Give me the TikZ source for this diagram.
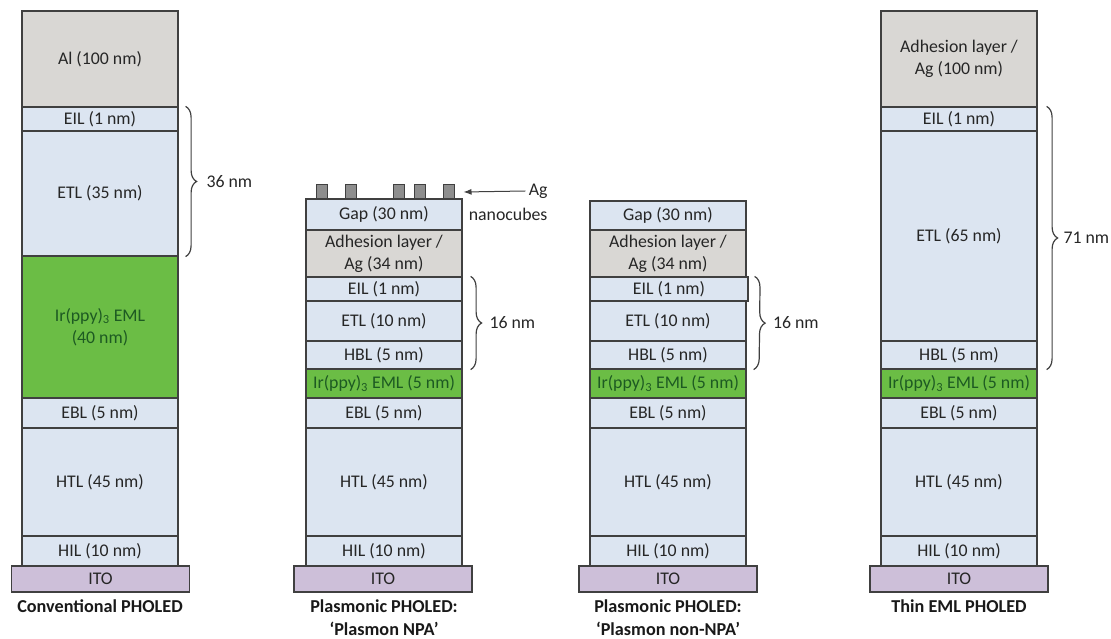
\documentclass[tikz,border=0pt]{standalone}
\usepackage{fontspec}
\setmainfont{Carlito}
\usepackage{xcolor}
\usepackage{tikz}
\usetikzlibrary{decorations.pathreplacing,arrows.meta}

\definecolor{layerblue}{HTML}{DCE5F1}
\definecolor{metalgray}{HTML}{D9D7D4}
\definecolor{emlgreen}{HTML}{6BBD45}
\definecolor{emltext}{HTML}{1D5A22}
\definecolor{itopurple}{HTML}{CDBFD9}
\definecolor{edgegray}{HTML}{404040}
\definecolor{cubegray}{HTML}{8E8E8E}

\begin{document}
\begin{tikzpicture}[
    x=1pt, y=-1pt,
    layer/.style={draw=edgegray, line width=1.2pt, minimum width=156pt, inner sep=0pt, align=center,
                  font=\fontsize{17.8}{22}\selectfont, text=black!85},
    organic/.style={layer, fill=layerblue},
    metal/.style={layer, fill=metalgray},
    eml/.style={layer, fill=emlgreen, text=emltext},
    ito/.style={layer, fill=itopurple, minimum width=178pt, minimum height=26pt},
    cube/.style={draw=edgegray, line width=1pt, fill=cubegray, minimum width=11pt, minimum height=14pt, inner sep=0pt},
    nmbrace/.style={draw=edgegray, line width=1.2pt, decorate, decoration={brace, amplitude=11pt}},
    note/.style={font=\fontsize{17.8}{22}\selectfont, text=black!85},
    title/.style={font=\bfseries\fontsize{18.2}{23}\selectfont, align=center, anchor=north, text=black!90}
]
    \useasboundingbox (0,0) rectangle (1111,639);

    % Conventional PHOLED
    \node[metal, minimum height=96pt] (c1al) at (100,59) {Al (100 nm)};
    \node[organic, minimum height=24pt] (c1eil) at (100,119) {EIL (1 nm)};
    \node[organic, minimum height=125pt] (c1etl) at (100,193.5) {ETL (35 nm)};
    \node[eml, minimum height=142pt] (c1eml) at (100,327) {Ir(ppy)\textsubscript{3} EML\\(40 nm)};
    \node[organic, minimum height=30pt] (c1ebl) at (100,413) {EBL (5 nm)};
    \node[organic, minimum height=108pt] (c1htl) at (100,482) {HTL (45 nm)};
    \node[organic, minimum height=30pt] (c1hil) at (100,551) {HIL (10 nm)};
    \node[ito] (c1ito) at (100.5,579) {ITO};
    \node[title] (c1name) at (100,596) {Conventional PHOLED};

    % Plasmonic PHOLED: Plasmon NPA
    \node[organic, minimum height=31pt] (c2gap) at (384,214.5) {Gap (30 nm)};
    \node[metal, minimum height=47pt] (c2adh) at (384,253.5) {Adhesion layer /\\Ag (34 nm)};
    \node[organic, minimum height=24pt] (c2eil) at (384,289) {EIL (1 nm)};
    \node[organic, minimum height=40pt] (c2etl) at (384,321) {ETL (10 nm)};
    \node[organic, minimum height=28pt] (c2hbl) at (384,355) {HBL (5 nm)};
    \node[eml, minimum height=29pt] (c2eml) at (384,383.5) {Ir(ppy)\textsubscript{3} EML (5 nm)};
    \node[organic, minimum height=30pt] (c2ebl) at (384,413) {EBL (5 nm)};
    \node[organic, minimum height=108pt] (c2htl) at (384,482) {HTL (45 nm)};
    \node[organic, minimum height=30pt] (c2hil) at (384,551) {HIL (10 nm)};
    \node[ito] (c2ito) at (383,579) {ITO};
    \node[title] (c2name) at (384,596) {Plasmonic PHOLED:\\‘Plasmon NPA’};

    % Ag nanocubes on the gap layer
    \node[cube] (cube1) at (321.5,192) {};
    \node[cube] (cube2) at (350.5,192) {};
    \node[cube] (cube3) at (399,192) {};
    \node[cube] (cube4) at (419.5,192) {};
    \node[cube] (cube5) at (448.5,192) {};
    \node[note, anchor=east] (aglbl) at (551,191) {Ag};
    \node[note, anchor=east] (nclbl) at (551,214) {nanocubes};
    \draw[-{Latex[length=8pt,width=6pt]}, line width=1pt, edgegray] (aglbl.west) -- ([xshift=9pt]cube5.east);

    % Plasmonic PHOLED: Plasmon non-NPA
    \node[organic, minimum height=29pt] (c3gap) at (668,215.5) {Gap (30 nm)};
    \node[metal, minimum height=47pt] (c3adh) at (668,253.5) {Adhesion layer /\\Ag (34 nm)};
    \node[organic, minimum height=24pt, minimum width=158pt] (c3eil) at (669,289) {EIL (1 nm)};
    \node[organic, minimum height=40pt] (c3etl) at (668,321) {ETL (10 nm)};
    \node[organic, minimum height=28pt] (c3hbl) at (668,355) {HBL (5 nm)};
    \node[eml, minimum height=29pt] (c3eml) at (668,383.5) {Ir(ppy)\textsubscript{3} EML (5 nm)};
    \node[organic, minimum height=30pt] (c3ebl) at (668,413) {EBL (5 nm)};
    \node[organic, minimum height=108pt] (c3htl) at (668,482) {HTL (45 nm)};
    \node[organic, minimum height=30pt] (c3hil) at (668,551) {HIL (10 nm)};
    \node[ito] (c3ito) at (668,579) {ITO};
    \node[title] (c3name) at (668,596) {Plasmonic PHOLED:\\‘Plasmon non-NPA’};

    % Thin EML PHOLED
    \node[metal, minimum height=96pt] (c4adh) at (959,59) {Adhesion layer /\\Ag (100 nm)};
    \node[organic, minimum height=24pt] (c4eil) at (959,119) {EIL (1 nm)};
    \node[organic, minimum height=210pt] (c4etl) at (959,236) {ETL (65 nm)};
    \node[organic, minimum height=28pt] (c4hbl) at (959,355) {HBL (5 nm)};
    \node[eml, minimum height=29pt] (c4eml) at (959,383.5) {Ir(ppy)\textsubscript{3} EML (5 nm)};
    \node[organic, minimum height=30pt] (c4ebl) at (959,413) {EBL (5 nm)};
    \node[organic, minimum height=108pt] (c4htl) at (959,482) {HTL (45 nm)};
    \node[organic, minimum height=30pt] (c4hil) at (959,551) {HIL (10 nm)};
    \node[ito] (c4ito) at (959,579) {ITO};
    \node[title] (c4name) at (959,596) {Thin EML PHOLED};

    % Braces
    \draw[nmbrace] ([xshift=7pt]c1eil.north east) -- ([xshift=7pt]c1etl.south east)
        node[note, midway, right=17pt] (c1nm) {36 nm};
    \draw[nmbrace] ([xshift=8pt]c2eil.north east) -- ([xshift=8pt]c2hbl.south east)
        node[note, midway, right=15pt] (c2nm) {16 nm};
    \draw[nmbrace] ([xshift=6pt]c3eil.north east) -- ([xshift=7pt]c3hbl.south east)
        node[note, midway, right=15pt] (c3nm) {16 nm};
    \draw[nmbrace] ([xshift=9pt]c4eil.north east) -- ([xshift=9pt]c4hbl.south east)
        node[note, midway, right=13pt] (c4nm) {71 nm};
\end{tikzpicture}
\end{document}
